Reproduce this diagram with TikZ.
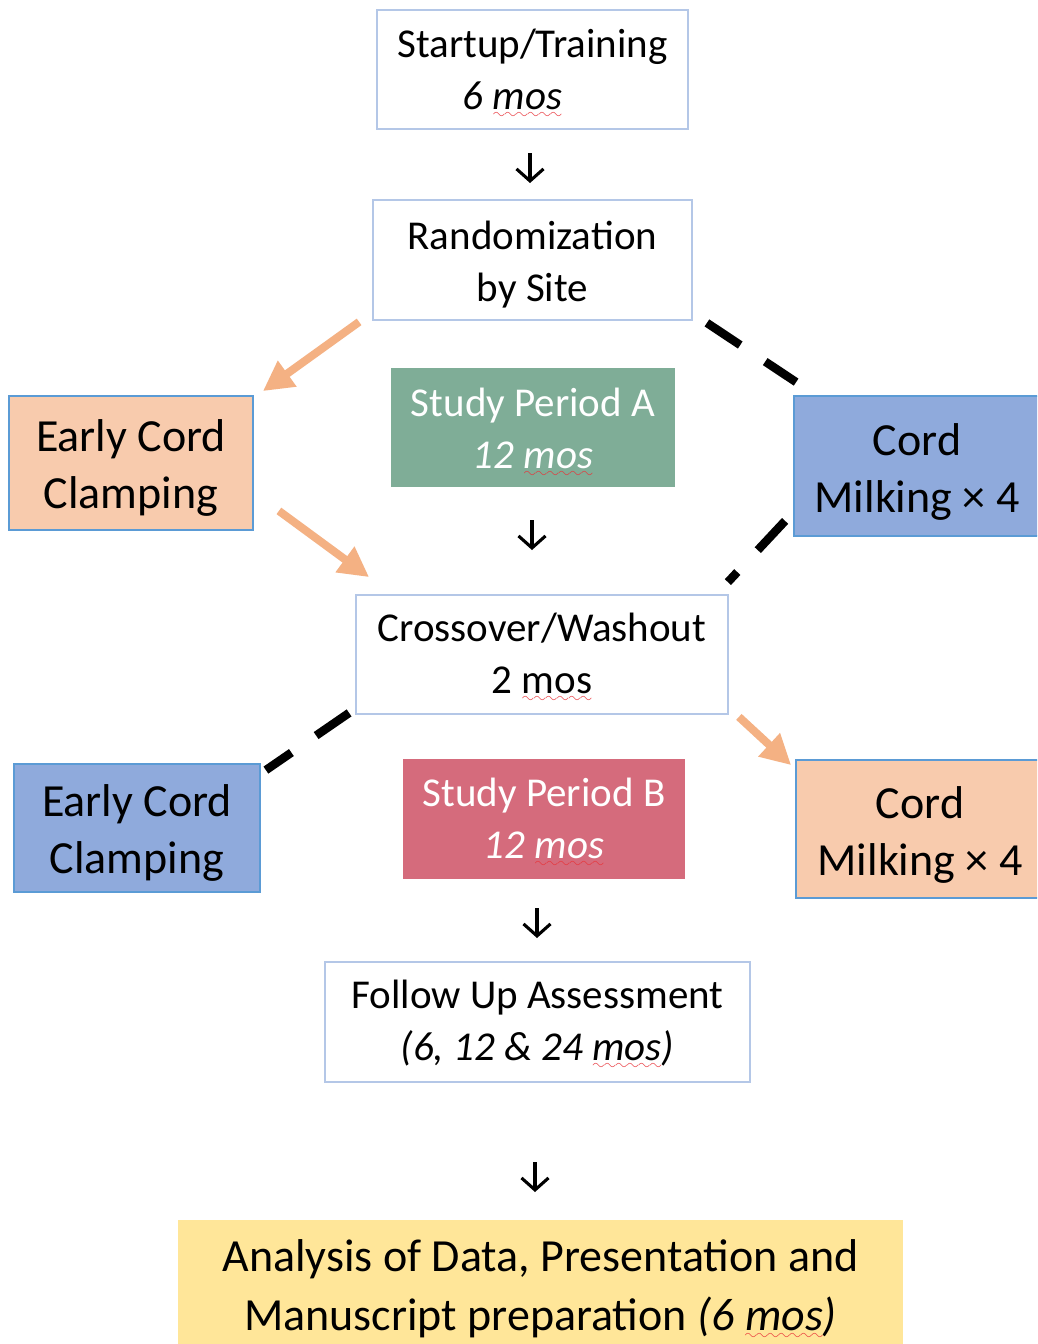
\documentclass[tikz,border=0pt]{standalone}
\usepackage{fontspec}
\setmainfont{Carlito}
\usetikzlibrary{arrows.meta}
\font\wavefnt=lasy10 at 16pt
\newcommand\spell[1]{\setbox0\hbox{#1}\leavevmode\rlap{\textcolor{spellred}{\lower9pt\hbox to\wd0{\xleaders\hbox{\wavefnt\char58}\hfil}}}\box0}
\definecolor{spellred}{HTML}{E8343A}
\definecolor{boxline}{HTML}{B4C7E7}
\definecolor{colline}{HTML}{5B9BD5}
\definecolor{eccorange}{HTML}{F8CBAD}
\definecolor{cmblue}{HTML}{8FAADC}
\definecolor{periodA}{HTML}{7FAD97}
\definecolor{periodB}{HTML}{D56B7C}
\definecolor{anayellow}{HTML}{FFE699}
\definecolor{orangeline}{HTML}{F4B183}
\tikzset{
  whitebox/.style={draw=boxline, line width=1.8pt, fill=white, inner sep=0pt},
  colbox/.style={draw=colline, line width=1.8pt, inner sep=0pt},
  periodbox/.style={draw=none, inner sep=0pt},
  smalltext/.style={inner sep=0pt, align=center, font=\fontsize{41}{52}\selectfont},
  bigtext/.style={inner sep=0pt, align=center, font=\fontsize{46}{57}\selectfont},
  flowarrow/.style={line width=3.1pt, -{Straight Barb[length=12pt,width=27pt,line width=3.1pt]}},
  orangearrow/.style={draw=orangeline, line width=8pt, -{Triangle[length=30pt,width=30pt]}},
  dashline/.style={line width=8.5pt, dash pattern=on 40pt off 30pt}
}
\begin{document}
\begin{tikzpicture}[x=1pt,y=-1pt]
\useasboundingbox (0,0) rectangle (1037,1344);
\clip (0,0) rectangle (1037,1344);
\fill[white] (0,0) rectangle (1037,1344);

% boxes
\node[whitebox, minimum width=311pt, minimum height=119pt] (startup) at (532.5,69.5) {};
\node[whitebox, minimum width=319pt, minimum height=120pt] (rand) at (532.5,260) {};
\node[colbox, fill=eccorange, minimum width=244pt, minimum height=134pt] (ecc1) at (131,463) {};
\node[periodbox, fill=periodA, minimum width=284pt, minimum height=119pt] (studyA) at (533,427.5) {};
\node[colbox, fill=cmblue, minimum width=246pt, minimum height=140pt] (cm1) at (917,466) {};
\node[whitebox, minimum width=372pt, minimum height=119pt] (cross) at (542,654.5) {};
\node[colbox, fill=cmblue, minimum width=246pt, minimum height=128pt] (ecc2) at (137,828) {};
\node[periodbox, fill=periodB, minimum width=282pt, minimum height=120pt] (studyB) at (544,819) {};
\node[colbox, fill=eccorange, minimum width=248pt, minimum height=138pt] (cm2) at (920,829) {};
\node[whitebox, minimum width=425pt, minimum height=120pt] (follow) at (537.5,1022) {};
\node[periodbox, fill=anayellow, minimum width=725pt, minimum height=132pt] (analysis) at (540.5,1286) {};

% texts
\node[smalltext] (startupT) at ([yshift=-4.5pt]startup.center)
  {Startup/Training\\\textit{6 \spell{mos}}\hspace*{40pt}};
\node[smalltext] (randT) at ([yshift=-4.5pt]rand.center) {Randomization\\by Site};
\node[bigtext] (ecc1T) at ([yshift=-5pt]ecc1.center) {Early Cord\\Clamping};
\node[smalltext, text=white] (studyAT) at ([yshift=-5.5pt]studyA.center)
  {Study Period A\\\textit{12 \spell{mos}}};
\node[bigtext] (cm1T) at ([yshift=-5.5pt]cm1.center) {Cord\\Milking × 4};
\node[smalltext] (crossT) at ([yshift=-3pt]cross.center) {Crossover/Washout\\2 \spell{mos}};
\node[bigtext] (ecc2T) at ([yshift=-5pt]ecc2.center) {Early Cord\\Clamping};
\node[smalltext, text=white] (studyBT) at ([yshift=-4pt]studyB.center)
  {Study Period B\\\textit{12 \spell{mos}}};
\node[bigtext] (cm2T) at ([yshift=-6pt]cm2.center) {Cord\\Milking × 4};
\node[smalltext] (followT) at ([yshift=-3pt]follow.center)
  {Follow Up Assessment\\\textit{(6, 12 \& 24 \spell{mos})}};
\node[bigtext, font=\fontsize{46}{59}\selectfont] (analysisT) at ([yshift=-4pt]analysis.center)
  {Analysis of Data, Presentation and\\Manuscript preparation \textit{(6 \spell{mos})}};

% flow arrows
\coordinate (a1s) at (530,153); \coordinate (a1e) at (530,183);
\coordinate (a2s) at (532,520); \coordinate (a2e) at (532,550);
\coordinate (a3s) at (537,908); \coordinate (a3e) at (537,938);
\coordinate (a4s) at (535,1162); \coordinate (a4e) at (535,1192);
\draw[flowarrow] (a1s) -- (a1e);
\draw[flowarrow] (a2s) -- (a2e);
\draw[flowarrow] (a3s) -- (a3e);
\draw[flowarrow] (a4s) -- (a4e);

% orange arrows
\draw[orangearrow] ([shift={(-13,1)}]rand.south west) -- ([shift={(9,-4)}]ecc1.north east);
\draw[orangearrow] ([shift={(25,-20)}]ecc1.south east) -- ([shift={(14,-17)}]cross.north west);
\draw[orangearrow] ([shift={(10,2)}]cross.south east) -- ([shift={(-4,6)}]cm2.north west);

% dashed lines
\draw[dashline] ([shift={(14,2)}]rand.south east) -- ([shift={(3,-13)}]cm1.north west);
\draw[dashline] ([shift={(-8,-16)}]cm1.south west) -- ([shift={(-1,-12)}]cross.north east);
\draw[dashline] ([shift={(-6,-2)}]cross.south west) -- ([shift={(5,7)}]ecc2.north east);
\end{tikzpicture}
\end{document}
